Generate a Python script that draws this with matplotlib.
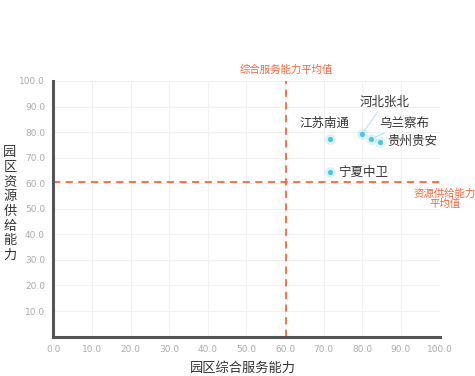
import matplotlib
matplotlib.use('Agg')
import matplotlib.pyplot as plt

plt.rcParams['font.family'] = ['Noto Sans CJK SC', 'DejaVu Sans']

# data
parks = ['江苏南通', '河北张北', '乌兰察布', '贵州贵安', '宁夏中卫']
service = [71.7, 79.9, 82.3, 84.6, 71.7]
resource = [77.3, 79.1, 77.3, 76.3, 64.2]
service_mean = 60.3
resource_mean = 60.5
ticks = [0, 10, 20, 30, 40, 50, 60, 70, 80, 90, 100]

# label offsets in points (dx, dy), alignment, leader line
label_pos = {
    '江苏南通': ((-4, 11), 'center', False),
    '河北张北': ((16, 23), 'center', True),
    '乌兰察布': ((24, 11), 'center', True),
    '贵州贵安': ((5, 0), 'left', False),
    '宁夏中卫': ((6, 0), 'left', False),
}

orange = '#f4693f'
cyan = '#4cc6dc'

fig = plt.figure(figsize=(4.75, 3.76), dpi=100)
ax = fig.add_axes([0.1124, 0.1048, 0.8129, 0.6798])
ax.set_xlim(0, 100)
ax.set_ylim(0, 100)

ax.set_xticks(ticks)
ax.set_yticks(ticks[1:])
ax.set_xticklabels(['%.1f' % t for t in ticks], family='DejaVu Sans')
ax.set_yticklabels(['%.1f' % t for t in ticks[1:]], family='DejaVu Sans')
ax.tick_params(length=0, labelsize=6.5, labelcolor='#aaaaaa', pad=6)
ax.grid(True, color='#f0f0f0', lw=0.8)
ax.set_axisbelow(True)

for s in ['top', 'right']:
    ax.spines[s].set_visible(False)
for s in ['left', 'bottom']:
    ax.spines[s].set_color('#555555')
    ax.spines[s].set_linewidth(2.2)

ax.axvline(service_mean, color=orange, ls=(0, (4, 3)), lw=1.3, clip_on=False)
ax.axhline(resource_mean, color=orange, ls=(0, (4, 3)), lw=1.3, clip_on=False)

ax.scatter(service, resource, s=60, color=cyan, alpha=0.2, lw=0, zorder=3)
ax.scatter(service, resource, s=14, color=cyan, lw=0, zorder=4)

for name, x, y in zip(parks, service, resource):
    (dx, dy), ha, leader = label_pos[name]
    arrow = dict(arrowstyle='-', color='#a8e3ee', lw=0.7, shrinkA=0, shrinkB=3) if leader else None
    ax.annotate(name, (x, y), xytext=(dx, dy), textcoords='offset points',
                ha=ha, va='center', fontsize=9, color='#333333',
                arrowprops=arrow)

ax.text(service_mean, 104.3, '综合服务能力平均值', ha='center', va='center',
        fontsize=7.5, color=orange)
fig.text(1 - 30 / 475, 1 - 199 / 376, '资源供给能力\n平均值', ha='center', va='center',
         multialignment='center', fontsize=7.5, color=orange, linespacing=1.05)

fig.text(0.512, 1 - 368 / 376, '园区综合服务能力', ha='center', va='center',
         fontsize=9.5, color='#333333')
fig.text(0.021, 1 - 204 / 376, '\n'.join('园区资源供给能力'), ha='center', va='center',
         fontsize=9.5, color='#333333', linespacing=1.17)

fig.savefig('out.png', dpi=100)
